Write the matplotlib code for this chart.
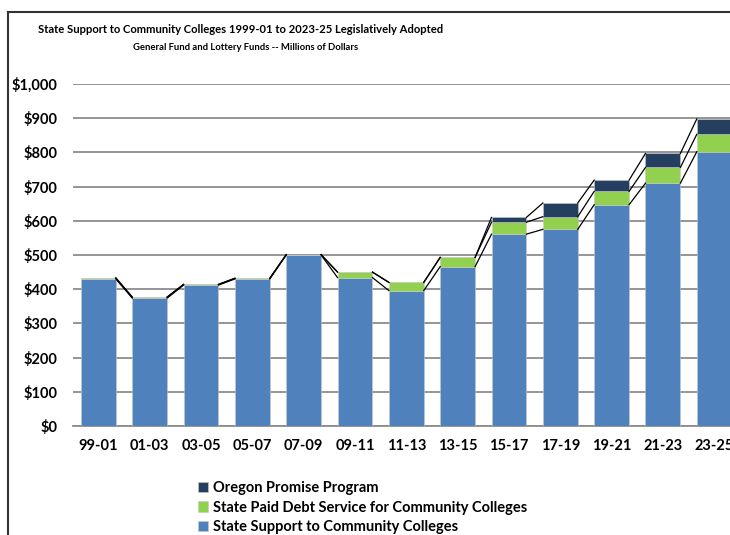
import numpy as np
import matplotlib
matplotlib.use("Agg")
import matplotlib.pyplot as plt
from matplotlib.lines import Line2D
from matplotlib.ticker import FuncFormatter

plt.rcParams['font.family'] = ['Lato', 'DejaVu Sans']
plt.rcParams['font.weight'] = 'bold'

# Biennium data, millions of dollars
periodos = ['99-01', '01-03', '03-05', '05-07', '07-09', '09-11', '11-13',
            '13-15', '15-17', '17-19', '19-21', '21-23', '23-25']
apoyo_estatal = [430, 374, 412, 430, 500, 434, 396, 466, 561, 575, 647, 710, 802]
servicio_deuda = [3, 3, 2, 2, 1, 16, 24, 27, 35, 37, 39, 46, 51]
oregon_promise = [0, 0, 0, 0, 0, 0, 0, 0, 14, 40, 33, 41, 45]

series = [
    ("State Support to Community Colleges", apoyo_estatal, '#4F81BD'),
    ("State Paid Debt Service for Community Colleges", servicio_deuda, '#92D050'),
    ("Oregon Promise Program", oregon_promise, '#243F60'),
]

fig = plt.figure(figsize=(7.3, 5.35), dpi=100)
ax = fig.add_axes([0.0996, 0.2037, 0.914, 0.6393])

x = np.arange(len(periodos))
ancho = 0.68
base = np.zeros(len(periodos))
handles = []
for nombre, valores, color in series:
    valores = np.array(valores, dtype=float)
    h = ax.bar(x, valores, ancho, bottom=base, color=color,
               edgecolor='#C8C8C8', linewidth=0.4, label=nombre, zorder=3)
    handles.append(h)
    base = base + valores
    # series lines joining segment tops between neighbouring bars
    for i in range(len(x) - 1):
        ax.plot([x[i] + ancho / 2, x[i + 1] - ancho / 2], [base[i], base[i + 1]],
                color='black', linewidth=0.9, zorder=4)

ax.set_xlim(-0.5, len(periodos) - 0.5)
ax.set_ylim(0, 1000)
ax.set_yticks(np.arange(0, 1001, 100))
ax.yaxis.set_major_formatter(FuncFormatter(lambda v, p: f"${v:,.0f}"))
ax.set_xticks(x)
ax.set_xticklabels(periodos)
ax.tick_params(axis='both', length=0, labelsize=10.5)
ax.tick_params(axis='x', pad=9)
ax.tick_params(axis='y', pad=11)
ax.grid(axis='y', color='#8C8C8C', linewidth=1.3, zorder=0)
ax.set_axisbelow(True)
for lado in ['top', 'right', 'left']:
    ax.spines[lado].set_visible(False)
ax.spines['bottom'].set_color('#8C8C8C')
ax.spines['bottom'].set_linewidth(1.3)

fig.text(0.329, 0.944, "State Support to Community Colleges 1999-01 to 2023-25 Legislatively Adopted",
         ha='center', va='center', fontsize=8.1, fontweight='bold')
fig.text(0.337, 0.912, "General Fund and Lottery Funds -- Millions of Dollars",
         ha='center', va='center', fontsize=6.8, fontweight='bold')

fig.legend(handles[::-1], [s[0] for s in series][::-1], loc='upper left',
           bbox_to_anchor=(0.271, 0.101), frameon=False, fontsize=10.5,
           handlelength=0.7, handleheight=0.7, handletextpad=0.35,
           labelspacing=0.38, borderaxespad=0, borderpad=0)

# outer frame (left and top edges)
fig.add_artist(Line2D([8 / 730, 8 / 730], [0, 1 - 12 / 535], transform=fig.transFigure,
                      color='#333333', linewidth=1.5))
fig.add_artist(Line2D([8 / 730, 1], [1 - 12 / 535, 1 - 12 / 535], transform=fig.transFigure,
                      color='#333333', linewidth=1.5))

fig.savefig("out.png", dpi=100)
